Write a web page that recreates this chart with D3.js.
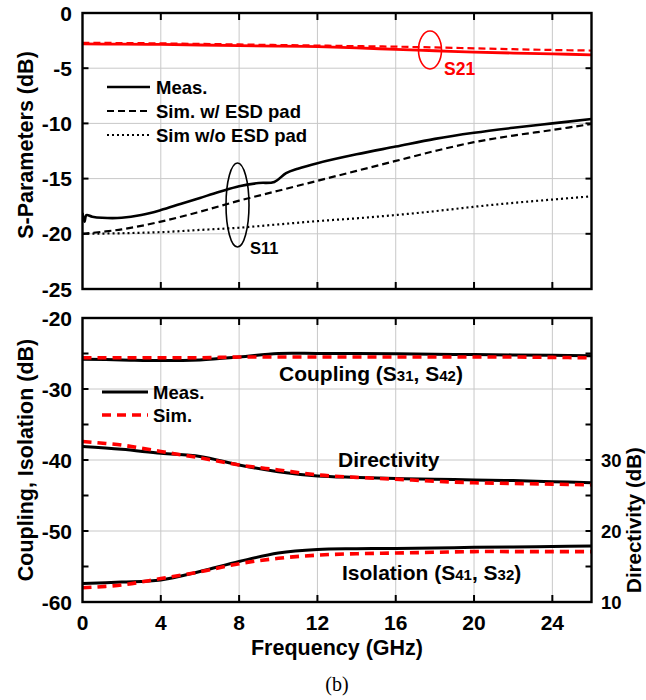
<!DOCTYPE html>
<html>
<head>
<meta charset="utf-8">
<script src="https://cdn.jsdelivr.net/npm/d3@7"></script>
<style>
  body { margin: 0; background: #fff; }
  svg { display: block; font-family: "Liberation Sans", Arial, sans-serif; }
</style>
</head>
<body>
<div id="chart"></div>
<script>
// values (GHz, dB)
const freqs = [0, 2, 4, 6, 8, 10, 12, 14, 16, 18, 20, 22, 24, 26]

const s21Meas = [-2.8, -2.82, -2.85, -2.9, -2.95, -3.0, -3.05, -3.15, -3.3, -3.42, -3.55, -3.63, -3.7, -3.8]
const s21Sim = [-2.7, -2.72, -2.75, -2.8, -2.85, -2.9, -2.95, -3.0, -3.05, -3.12, -3.2, -3.28, -3.35, -3.4]

const s11MeasF = [0, 0.1, 0.2, 0.5, 1, 2, 3, 4, 5, 6, 7, 8, 9, 9.8, 10.4, 11, 12, 14, 16, 18, 20, 22, 24, 26]
const s11Meas = [-18.1, -18.9, -18.3, -18.45, -18.55, -18.55, -18.3, -17.85, -17.3, -16.75, -16.2, -15.7, -15.4, -15.3, -14.5, -14.1, -13.6, -12.8, -12.1, -11.4, -10.85, -10.4, -10.0, -9.6]
const s11Sim = [-20, -19.6, -18.9, -18.0, -17.0, -16.1, -15.2, -14.3, -13.4, -12.5, -11.7, -11.1, -10.6, -10.05]
const s11NoEsd = [-20, -19.95, -19.85, -19.65, -19.45, -19.15, -18.85, -18.6, -18.3, -17.95, -17.55, -17.2, -16.9, -16.6]

const couplingMeas = [-25.8, -25.9, -26.0, -25.9, -25.5, -25.0, -25.0, -25.0, -25.05, -25.1, -25.15, -25.2, -25.25, -25.3]
const couplingSim = [-25.6, -25.6, -25.6, -25.6, -25.5, -25.5, -25.5, -25.5, -25.5, -25.5, -25.5, -25.5, -25.55, -25.6]
const isolationMeas = [-57.4, -57.2, -56.9, -55.7, -54.3, -53.1, -52.6, -52.5, -52.45, -52.4, -52.3, -52.25, -52.2, -52.1]
const isolationSim = [-58.0, -57.6, -56.7, -55.75, -54.6, -53.85, -53.4, -53.2, -53.1, -53.0, -52.9, -52.9, -52.9, -52.9]
// directivity, right axis (dB)
const directMeas = [31.9, 31.5, 30.95, 30.5, 29.3, 28.35, 27.75, 27.55, 27.4, 27.3, 27.2, 27.1, 26.95, 26.8]
const directSim = [32.6, 32.1, 31.2, 30.3, 29.3, 28.6, 27.9, 27.55, 27.3, 27.0, 26.8, 26.7, 26.6, 26.5]

const xTicks = [0, 4, 8, 12, 16, 20, 24]
const topYTicks = [0, -5, -10, -15, -20, -25]
const botYTicks = [-20, -30, -40, -50, -60]
const rightTicks = [10, 20, 30]

const W = 646
const H = 700
const left = 82.5
const right = 591.5
const tickFont = 21
const titleFont = 21.5
const legendFont = 18.5

const svg = d3.select('#chart').append('svg')
  .attr('width', W)
  .attr('height', H)

svg.append('rect').attr('width', W).attr('height', H).attr('fill', '#fff')

const x = d3.scaleLinear().domain([0, 26]).range([left, right])
const yTop = d3.scaleLinear().domain([-25, 0]).range([289, 13])
const yBot = d3.scaleLinear().domain([-60, -20]).range([602, 318])
const yDir = d3.scaleLinear().domain([10, 50]).range([602, 318])

const pairs = (fs, vs) => fs.map((f, i) => [f, vs[i]])

function panel (y, yTicks, yMinor, gridVals, id) {
  const g = svg.append('g')
  const [y0, y1] = y.range()

  svg.append('clipPath').attr('id', id)
    .append('rect')
    .attr('x', left).attr('y', y1)
    .attr('width', right - left).attr('height', y0 - y1)

  // grid
  g.selectAll('.vg').data(xTicks.slice(1))
    .join('line')
    .attr('x1', d => x(d)).attr('x2', d => x(d))
    .attr('y1', y1).attr('y2', y0)
    .attr('stroke', '#c8c8c8').attr('stroke-width', 1)
  g.selectAll('.hg').data(gridVals)
    .join('line')
    .attr('x1', left).attr('x2', right)
    .attr('y1', d => y(d)).attr('y2', d => y(d))
    .attr('stroke', '#c8c8c8').attr('stroke-width', 1)

  // inward ticks
  const tk = g.append('g').attr('stroke', '#000').attr('stroke-width', 2)
  xTicks.slice(1).forEach(t => {
    tk.append('line').attr('x1', x(t)).attr('x2', x(t)).attr('y1', y0).attr('y2', y0 - 7)
    tk.append('line').attr('x1', x(t)).attr('x2', x(t)).attr('y1', y1).attr('y2', y1 + 7)
  })
  yMinor.forEach(t => {
    tk.append('line').attr('x1', left).attr('x2', left + 6).attr('y1', y(t)).attr('y2', y(t))
    tk.append('line').attr('x1', right).attr('x2', right - 6).attr('y1', y(t)).attr('y2', y(t))
  })

  // tick labels
  g.selectAll('.yl').data(yTicks)
    .join('text')
    .attr('x', 72).attr('y', d => y(d) + 7.5)
    .attr('text-anchor', 'end')
    .attr('font-size', tickFont).attr('font-weight', 'bold')
    .text(d => d)

  return g
}

function frame (y) {
  const [y0, y1] = y.range()
  svg.append('rect')
    .attr('x', left).attr('y', y1)
    .attr('width', right - left).attr('height', y0 - y1)
    .attr('fill', 'none').attr('stroke', '#000').attr('stroke-width', 2.4)
}

function drawLine (g, data, y, color, width, dash) {
  const line = d3.line().x(d => x(d[0])).y(d => y(d[1])).curve(d3.curveCatmullRom.alpha(0.5))
  g.append('path')
    .datum(data)
    .attr('d', line)
    .attr('fill', 'none')
    .attr('stroke', color)
    .attr('stroke-width', width)
    .attr('stroke-dasharray', dash || null)
    .attr('stroke-linejoin', 'round')
}

// ---- top panel: S-parameters
panel(yTop, topYTicks, [-5, -10, -15, -20], [-5, -10, -15, -20], 'clipTop')
const gTop = svg.append('g').attr('clip-path', 'url(#clipTop)')
drawLine(gTop, pairs(freqs, s11NoEsd), yTop, '#000', 2.2, '2,3')
drawLine(gTop, pairs(freqs, s11Sim), yTop, '#000', 2.2, '7,4')
drawLine(gTop, pairs(s11MeasF, s11Meas), yTop, '#000', 2.6)
drawLine(gTop, pairs(freqs, s21Sim), yTop, '#f00', 2.2, '7,4')
drawLine(gTop, pairs(freqs, s21Meas), yTop, '#f00', 2.8)
frame(yTop)

// legend top
const legTop = [
  { label: 'Meas.', dash: null, y: 87 },
  { label: 'Sim. w/ ESD pad', dash: '7,4', y: 111 },
  { label: 'Sim w/o ESD pad', dash: '2,3', y: 135 }
]
legTop.forEach(d => {
  svg.append('line')
    .attr('x1', 107).attr('x2', 150).attr('y1', d.y).attr('y2', d.y)
    .attr('stroke', '#000').attr('stroke-width', d.dash ? 2.2 : 2.6)
    .attr('stroke-dasharray', d.dash)
  svg.append('text')
    .attr('x', 156).attr('y', d.y + 6.5)
    .attr('font-size', legendFont).attr('font-weight', 'bold')
    .text(d.label)
})

// annotations top
svg.append('ellipse')
  .attr('cx', 237.5).attr('cy', 205).attr('rx', 11.5).attr('ry', 42)
  .attr('fill', 'none').attr('stroke', '#000').attr('stroke-width', 1.6)
svg.append('text')
  .attr('x', 250).attr('y', 254)
  .attr('font-size', 16.5).attr('font-weight', 'bold')
  .text('S11')
svg.append('ellipse')
  .attr('cx', 430).attr('cy', 50).attr('rx', 11.5).attr('ry', 19)
  .attr('fill', 'none').attr('stroke', '#f00').attr('stroke-width', 1.6)
svg.append('text')
  .attr('x', 444).attr('y', 75)
  .attr('font-size', 17.5).attr('font-weight', 'bold').attr('fill', '#f00')
  .text('S21')

svg.append('text')
  .attr('transform', 'translate(33,145) rotate(-90)')
  .attr('text-anchor', 'middle')
  .attr('font-size', titleFont).attr('font-weight', 'bold')
  .text('S-Parameters (dB)')

// ---- bottom panel
panel(yBot, botYTicks, [-25, -30, -35, -40, -45, -50, -55], [-30, -40, -50], 'clipBot')
const gBot = svg.append('g').attr('clip-path', 'url(#clipBot)')
const redDash = '9,6'
drawLine(gBot, pairs(freqs, couplingMeas), yBot, '#000', 3)
drawLine(gBot, pairs(freqs, couplingSim), yBot, '#f00', 3.6, redDash)
drawLine(gBot, pairs(freqs, directMeas), yDir, '#000', 3)
drawLine(gBot, pairs(freqs, directSim), yDir, '#f00', 3.6, redDash)
drawLine(gBot, pairs(freqs, isolationMeas), yBot, '#000', 3)
drawLine(gBot, pairs(freqs, isolationSim), yBot, '#f00', 3.6, redDash)
frame(yBot)

// x tick labels
svg.selectAll('.xl').data(xTicks)
  .join('text')
  .attr('x', d => x(d)).attr('y', 630)
  .attr('text-anchor', 'middle')
  .attr('font-size', tickFont).attr('font-weight', 'bold')
  .text(d => d)

// right axis labels
svg.selectAll('.rl').data(rightTicks)
  .join('text')
  .attr('x', 601).attr('y', d => yDir(d) + 7)
  .attr('font-size', 18.5).attr('font-weight', 'bold')
  .text(d => d)

svg.append('text')
  .attr('transform', 'translate(641,520) rotate(-90)')
  .attr('text-anchor', 'middle')
  .attr('font-size', 20.5).attr('font-weight', 'bold')
  .text('Directivity (dB)')

svg.append('text')
  .attr('transform', 'translate(33,460) rotate(-90)')
  .attr('text-anchor', 'middle')
  .attr('font-size', titleFont).attr('font-weight', 'bold')
  .text('Coupling, Isolation (dB)')

svg.append('text')
  .attr('x', 337).attr('y', 655)
  .attr('text-anchor', 'middle')
  .attr('font-size', titleFont).attr('font-weight', 'bold')
  .text('Frequency (GHz)')

svg.append('text')
  .attr('x', 337).attr('y', 691)
  .attr('text-anchor', 'middle')
  .attr('font-family', '"Liberation Serif", "Times New Roman", serif')
  .attr('font-size', 20)
  .text('(b)')

// legend bottom
const legBot = [
  { label: 'Meas.', color: '#000', dash: null, w: 3, y: 392 },
  { label: 'Sim.', color: '#f00', dash: redDash, w: 3.6, y: 415 }
]
legBot.forEach(d => {
  svg.append('line')
    .attr('x1', 102).attr('x2', 148).attr('y1', d.y).attr('y2', d.y)
    .attr('stroke', d.color).attr('stroke-width', d.w)
    .attr('stroke-dasharray', d.dash)
  svg.append('text')
    .attr('x', 153).attr('y', d.y + 6.5)
    .attr('font-size', legendFont).attr('font-weight', 'bold')
    .text(d.label)
})

// curve labels with small port digits
function subLabel (xp, yp, parts) {
  const t = svg.append('text')
    .attr('x', xp).attr('y', yp)
    .attr('font-size', 21).attr('font-weight', 'bold')
  parts.forEach(p => {
    t.append('tspan').attr('font-size', p.small ? 15 : 21).text(p.s)
  })
}
subLabel(279, 381, [{ s: 'Coupling (S' }, { s: '31', small: true }, { s: ', S' }, { s: '42', small: true }, { s: ')' }])
subLabel(338, 467, [{ s: 'Directivity' }])
subLabel(342, 580, [{ s: 'Isolation (S' }, { s: '41', small: true }, { s: ', S' }, { s: '32', small: true }, { s: ')' }])
</script>
</body>
</html>
